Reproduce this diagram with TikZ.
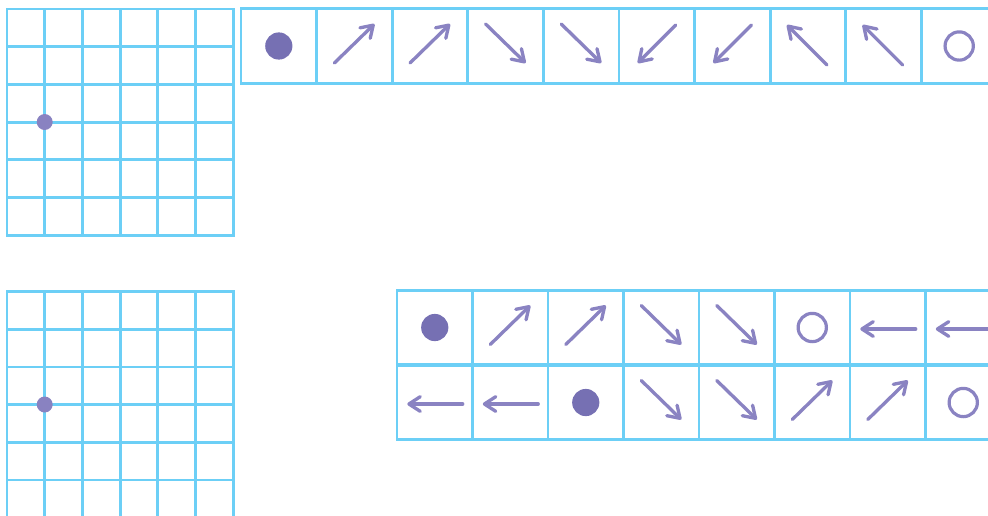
\documentclass[tikz,border=0pt]{standalone}
\usetikzlibrary{arrows.meta}
\definecolor{gridblue}{HTML}{6CCFF6}
\definecolor{movepurple}{HTML}{8A83C2}
\definecolor{dotpurple}{HTML}{7670B3}

\begin{document}
\begin{tikzpicture}[
    x=0.75pt, y=-0.75pt,
    gridline/.style={draw=gridblue, line width=2.1pt, line cap=rect},
    cell/.style={rectangle, draw=gridblue, line width=2.1pt,
                 minimum width=56.7pt, minimum height=56pt,
                 inner sep=0pt, outer sep=0pt},
    stone/.style={circle, fill=#1, inner sep=0pt, minimum size=12pt},
    move/.style={draw=movepurple, line width=2.5pt, line cap=round,
                 -{Straight Barb[length=8.5pt, width=11pt, line cap=round, line join=round]}},
    pics/stay/.style={code={\fill[dotpurple] (0,0) circle[radius=10.2pt];}},
    pics/goal/.style={code={\draw[movepurple, line width=2.4pt] (0,0) circle[radius=10.6pt];}},
    pics/ne/.style={code={\draw[move] (-20,17) -- (20,-22);}},
    pics/se/.style={code={\draw[move] (-20,-22) -- (20,17);}},
    pics/sw/.style={code={\draw[move] (19,-21) -- (-19,17);}},
    pics/nw/.style={code={\draw[move] (19,19) -- (-21,-21);}},
    pics/west/.style={code={\draw[move] (28,1.5) -- (-27.5,1.5);}},
]
\useasboundingbox (0,0) rectangle (988,515);
\clip (0,0) rectangle (988,515);

% Board grids
\foreach \i in {0,...,6} {
  \draw[gridline] ({7+37.7*\i},9) -- ({7+37.7*\i},235.2);
  \draw[gridline] (7,{9+37.7*\i}) -- (233.2,{9+37.7*\i});
  \draw[gridline] ({7+37.7*\i},291.5) -- ({7+37.7*\i},520);
  \draw[gridline] (7,{291.5+37.7*\i}) -- (233.2,{291.5+37.7*\i});
}
\node[stone=movepurple!95!dotpurple] (stoneA) at (44.7,122) {};
\node[stone=movepurple!95!dotpurple] (stoneB) at (44.7,404.5) {};

% Top move sequence
\foreach \i in {1,...,10}
  \node[cell] (t\i) at ({241+75.6*(\i-0.5)},46) {};

% Bottom move sequence, two rows
\foreach \i in {1,...,8} {
  \node[cell] (u\i) at ({397+75.5*(\i-0.5)},327.5) {};
  \node[cell] (l\i) at ({397+75.5*(\i-0.5)},402.5) {};
}

% Glyphs in the cells
\foreach \c in {t1,u1,l3} \pic at (\c) {stay};
\foreach \c in {t10,u6,l8} \pic at (\c) {goal};
\foreach \c in {t2,t3,u2,u3,l6,l7} \pic at (\c) {ne};
\foreach \c in {t4,t5,u4,u5,l4,l5} \pic at (\c) {se};
\foreach \c in {t6,t7} \pic at (\c) {sw};
\foreach \c in {t8,t9} \pic at (\c) {nw};
\foreach \c in {u7,u8,l1,l2} \pic at (\c) {west};

\end{tikzpicture}
\end{document}
